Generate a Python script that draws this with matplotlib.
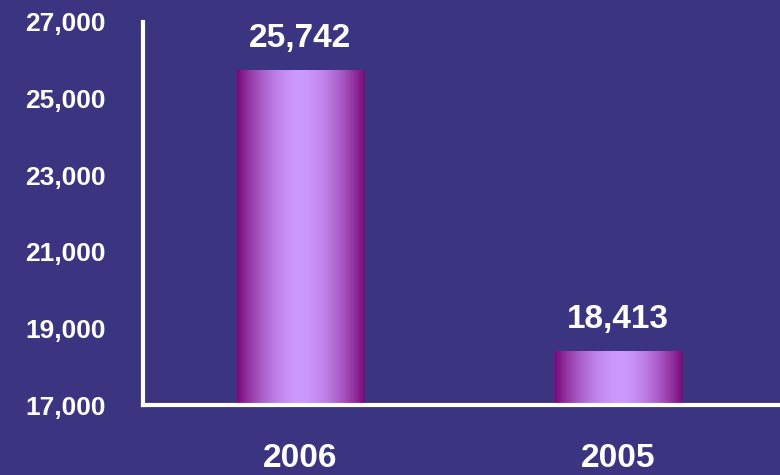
import numpy as np
import matplotlib
matplotlib.use('Agg')
import matplotlib.pyplot as plt
from matplotlib.ticker import FuncFormatter

years = ['2006', '2005']
totals = [25742, 18413]
yticks = [17000, 19000, 21000, 23000, 25000, 27000]

bg = '#3b3480'
plt.rcParams['font.family'] = ['Liberation Sans', 'DejaVu Sans']

fig = plt.figure(figsize=(7.8, 4.75), dpi=100)
fig.patch.set_facecolor(bg)
ax = fig.add_axes([0.1833, 0.147, 0.8167, 0.8067])
ax.set_facecolor(bg)

x = np.arange(len(years)) + 0.5
bars = ax.bar(x, totals, width=0.4, bottom=0, color='none', edgecolor='none', zorder=2)

# horizontal gradient: dark magenta edges -> lavender middle
t = np.linspace(-1, 1, 256)
w = 1 - np.abs(t) ** 1.8
c_edge = np.array([0x7a, 0x08, 0x7a]) / 255
c_mid = np.array([0xcc, 0x99, 0xff]) / 255
grad = c_edge[None, :] + (c_mid - c_edge)[None, :] * w[:, None]
grad = grad[None, :, :]

for b in bars:
    x0, y0 = b.get_x(), 17000
    im = ax.imshow(grad, extent=[x0, x0 + b.get_width(), y0, b.get_height()],
                   aspect='auto', zorder=2, interpolation='bilinear')
    im.set_clip_path(b)

for xi, v in zip(x, totals):
    ax.text(xi, v + 410, f'{v:,}', ha='center', va='bottom', color='white',
            fontsize=24, fontweight='bold', zorder=3)

ax.set_xlim(0.004, 2.01)
ax.set_ylim(17000, 27000)
ax.set_yticks(yticks)
ax.yaxis.set_major_formatter(FuncFormatter(lambda v, p: f'{int(v):,}'))
ax.set_xticks(x)
ax.set_xticklabels(years)
ax.tick_params(axis='y', length=0, pad=27, labelsize=19, labelcolor='white')
ax.tick_params(axis='x', length=0, pad=27, labelsize=24, labelcolor='white')
for lab in ax.get_xticklabels() + ax.get_yticklabels():
    lab.set_fontweight('bold')

for s in ['top', 'right']:
    ax.spines[s].set_visible(False)
for s in ['left', 'bottom']:
    ax.spines[s].set_color('white')
    ax.spines[s].set_linewidth(3)

fig.savefig('out.png', dpi=100, facecolor=bg)
